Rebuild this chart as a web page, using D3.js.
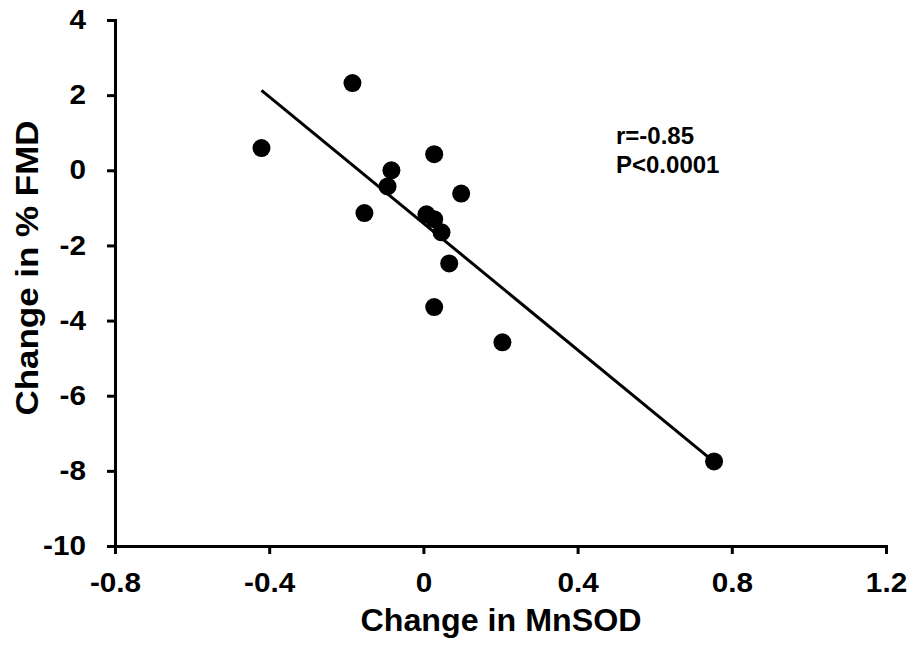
<!DOCTYPE html>
<html>
<head>
<meta charset="utf-8">
<script src="https://cdn.jsdelivr.net/npm/d3@7"></script>
<style>
  body { margin: 0; background: #fff; }
  text { font-family: "Liberation Sans", Arial, sans-serif; font-weight: bold; }
</style>
</head>
<body>
<script>
// data
var mnsod = [-0.42, -0.184, -0.153, -0.093, -0.083, 0.028, 0.008, 0.028, 0.047, 0.098, 0.067, 0.028, 0.205, 0.754];
var fmd   = [0.59, 2.32, -1.14, -0.43, 0.0, 0.43, -1.17, -1.30, -1.65, -0.62, -2.48, -3.64, -4.58, -7.75];
var xTicks = [-0.8, -0.4, 0, 0.4, 0.8, 1.2];
var yTicks = [4, 2, 0, -2, -4, -6, -8, -10];
var fitRange = [-0.42, 0.754];
var fitSlope = -8.42;
var fitIntercept = -1.41;
var notes = ["r=-0.85", "P<0.0001"];

var width = 915, height = 647;

var svg = d3.select("body").append("svg")
  .attr("width", width)
  .attr("height", height)

var x = d3.scaleLinear().domain([-0.8, 1.2]).range([115, 886]);
var y = d3.scaleLinear().domain([-10, 4]).range([546, 20]);

// plain hyphen for negatives, like the original
var fmt = function (d) { return String(d); };

// axes
var xAxis = svg.append("g")
  .attr("transform", "translate(0," + y(-10) + ")")
  .call(d3.axisBottom(x).tickValues(xTicks).tickSize(8).tickPadding(19).tickFormat(fmt));

var yAxis = svg.append("g")
  .attr("transform", "translate(" + x(-0.8) + ",0)")
  .call(d3.axisLeft(y).tickValues(yTicks).tickSize(8).tickPadding(21).tickFormat(fmt));

[xAxis, yAxis].forEach(function (a) {
  a.select(".domain").attr("stroke", "#000").attr("stroke-width", 3);
  a.selectAll(".tick line").attr("stroke", "#000").attr("stroke-width", 3);
  a.selectAll(".tick text")
    .attr("fill", "#000")
    .style("font-size", "27px")
    .each(function () {
      // the original labels are a bit wider than Arial
      var len = this.getComputedTextLength();
      d3.select(this).attr("textLength", len * 1.1).attr("lengthAdjust", "spacingAndGlyphs");
    });
});

// axis titles
svg.append("text")
  .attr("x", 501)
  .attr("y", 631)
  .attr("text-anchor", "middle")
  .attr("textLength", 281)
  .attr("lengthAdjust", "spacingAndGlyphs")
  .style("font-size", "31px")
  .text("Change in MnSOD");

svg.append("text")
  .attr("transform", "translate(38,268) rotate(-90)")
  .attr("text-anchor", "middle")
  .attr("textLength", 295)
  .attr("lengthAdjust", "spacingAndGlyphs")
  .style("font-size", "32px")
  .text("Change in % FMD");

// regression line
svg.append("line")
  .attr("x1", x(fitRange[0]))
  .attr("y1", y(fitIntercept + fitSlope * fitRange[0]))
  .attr("x2", x(fitRange[1]))
  .attr("y2", y(fitIntercept + fitSlope * fitRange[1]))
  .attr("stroke", "#000")
  .attr("stroke-width", 3);

// points
svg.selectAll("circle.pt")
  .data(mnsod)
  .enter().append("circle")
  .attr("class", "pt")
  .attr("cx", function (d) { return x(d); })
  .attr("cy", function (d, i) { return y(fmd[i]); })
  .attr("r", 9)
  .attr("fill", "#000");

// r and P
svg.selectAll("text.note")
  .data(notes)
  .enter().append("text")
  .attr("class", "note")
  .attr("x", 616)
  .attr("y", function (d, i) { return 144 + i * 29; })
  .style("font-size", "24px")
  .text(function (d) { return d; });
</script>
</body>
</html>
